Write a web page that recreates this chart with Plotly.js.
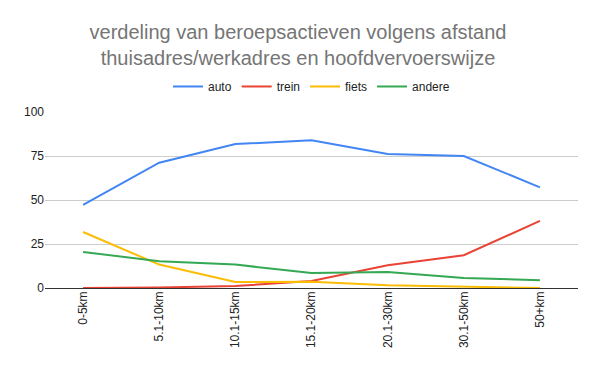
<!DOCTYPE html>
<html>
<head>
<meta charset="utf-8">
<script src="https://cdn.plot.ly/plotly-3.0.1.min.js"></script>
<style>html,body{margin:0;padding:0;background:#fff}#chart{width:596px;height:371px}</style>
</head>
<body>
<div id="chart"></div>
<script>
const categories = ["0-5km", "5.1-10km", "10.1-15km", "15.1-20km", "20.1-30km", "30.1-50km", "50+km"];
const auto = [47.2, 71.2, 81.8, 83.9, 76.1, 75.0, 57.2];
const trein = [0.0, 0.3, 1.1, 4.0, 12.9, 18.6, 38.1];
const fiets = [31.8, 13.3, 3.4, 3.6, 1.5, 0.6, 0.0];
const andere = [20.5, 15.2, 13.3, 8.5, 9.1, 5.7, 4.4];
const seriesNames = ["auto", "trein", "fiets", "andere"];
const yTicks = [0, 25, 50, 75, 100];

const colors = ["#4285F4", "#EA4335", "#FBBC04", "#34A853"];
const data = [auto, trein, fiets, andere].map((vals, i) => ({
  type: "scatter", mode: "lines", name: seriesNames[i],
  x: categories, y: vals,
  line: {color: colors[i], width: 2},
  cliponaxis: false
}));

const FONT = "Arial, 'Liberation Sans', sans-serif";
const layout = {
  width: 596, height: 371,
  margin: {l: 45, r: 18, t: 112, b: 83},
  paper_bgcolor: "#fff", plot_bgcolor: "#fff",
  font: {family: FONT, size: 12, color: "#222"},
  title: {
    text: "verdeling van beroepsactieven volgens afstand<br>thuisadres/werkadres en hoofdvervoerswijze",
    font: {size: 20, color: "#757575", family: FONT},
    x: 0.5, xanchor: "center", y: 0.895, yanchor: "top"
  },
  showlegend: true,
  legend: {orientation: "h", x: 0.5, xanchor: "center", y: 1.145, yanchor: "middle",
           font: {size: 12, color: "#222", family: FONT}, itemwidth: 30},
  xaxis: {
    type: "category", range: [-0.5, 6.5], tickangle: -90,
    showgrid: false, zeroline: false, showline: false, ticks: "",
    tickfont: {size: 12, color: "#222", family: FONT}
  },
  yaxis: {
    range: [0, 100], tickvals: yTicks, ticktext: yTicks.map(String),
    showgrid: true, gridcolor: "#cccccc", gridwidth: 1,
    zeroline: true, zerolinecolor: "#333", zerolinewidth: 1,
    showline: false, ticks: "", tickfont: {size: 12, color: "#222", family: FONT}
  }
};
Plotly.newPlot("chart", data, layout, {displayModeBar: false, staticPlot: true});
</script>
</body>
</html>
